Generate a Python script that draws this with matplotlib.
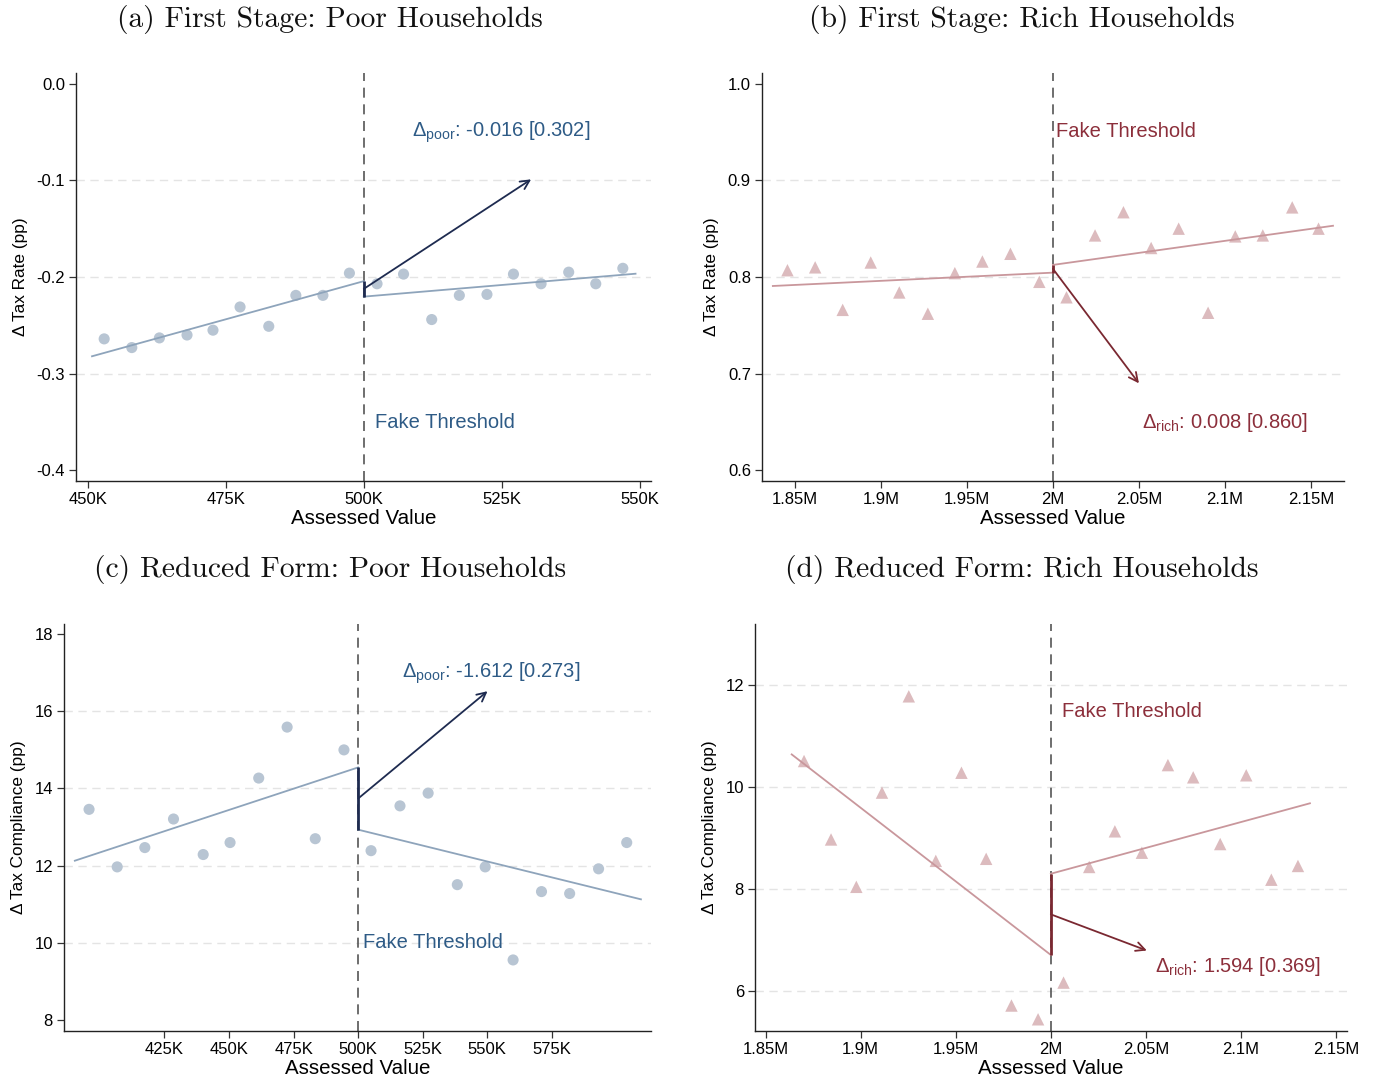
import matplotlib
matplotlib.use("Agg")
import matplotlib.pyplot as plt

plt.rcParams["font.family"] = ["Liberation Sans", "DejaVu Sans"]
plt.rcParams["mathtext.fontset"] = "custom"
plt.rcParams["mathtext.rm"] = "Liberation Sans"
plt.rcParams["mathtext.it"] = "Liberation Sans:italic"
plt.rcParams["mathtext.bf"] = "Liberation Sans:bold"

# ---------------- data (assessed value in thousands) ----------------
# (a) first stage, poor households
poor_fs_x = [453.0, 458.0, 463.0, 468.0, 472.7, 477.6, 482.8, 487.7, 492.6, 497.4,
             502.4, 507.2, 512.3, 517.3, 522.3, 527.1, 532.1, 537.1, 542.0, 546.9]
poor_fs_y = [-0.264, -0.273, -0.263, -0.260, -0.255, -0.231, -0.251, -0.219, -0.219, -0.196,
             -0.207, -0.197, -0.244, -0.219, -0.218, -0.197, -0.207, -0.195, -0.207, -0.191]
poor_fs_fit_x = [450.8, 549.2]          # left start, right end
poor_fs_fit_y = [-0.282, -0.1966]
poor_fs_gap_mid = -0.2123
poor_fs_delta = -0.016
poor_fs_pval = 0.302
poor_fs_arrow_end = (530.3, -0.099)

# (b) first stage, rich households
rich_fs_x = [1845.7, 1861.8, 1877.8, 1894.1, 1910.7, 1927.3, 1943.0, 1959.0, 1975.3, 1992.1,
             2007.9, 2024.5, 2041.0, 2057.1, 2073.1, 2090.2, 2106.0, 2122.0, 2139.1, 2154.4]
rich_fs_y = [0.807, 0.810, 0.766, 0.815, 0.784, 0.762, 0.804, 0.816, 0.824, 0.795,
             0.779, 0.843, 0.867, 0.830, 0.850, 0.763, 0.842, 0.843, 0.872, 0.850]
rich_fs_fit_x = [1837.2, 2162.8]
rich_fs_fit_y = [0.7907, 0.853]
rich_fs_gap_mid = 0.8085
rich_fs_delta = 0.008
rich_fs_pval = 0.860
rich_fs_arrow_end = (2050.0, 0.690)

# (c) reduced form, poor households
poor_rf_x = [395.8, 406.7, 417.4, 428.5, 440.0, 450.4, 461.5, 472.5, 483.4, 494.5,
             505.0, 516.2, 527.1, 538.4, 549.2, 560.0, 571.0, 581.9, 593.1, 604.0]
poor_rf_y = [13.46, 11.97, 12.47, 13.21, 12.29, 12.60, 14.27, 15.59, 12.70, 15.00,
             12.39, 13.55, 13.88, 11.51, 11.97, 9.56, 11.33, 11.28, 11.92, 12.60]
poor_rf_fit_x = [390.3, 609.5]
poor_rf_fit_y = [12.13, 11.13]
poor_rf_gap_mid = 13.74
poor_rf_delta = -1.612
poor_rf_pval = 0.273
poor_rf_arrow_end = (550.1, 16.52)

# (d) reduced form, rich households
rich_rf_x = [1870.2, 1884.4, 1897.7, 1911.2, 1925.3, 1939.5, 1953.0, 1966.0, 1979.3, 1993.3,
             2006.7, 2020.2, 2033.7, 2047.9, 2061.6, 2074.9, 2089.1, 2102.8, 2116.0, 2130.0]
rich_rf_y = [10.51, 8.97, 8.04, 9.89, 11.78, 8.55, 10.28, 8.59, 5.71, 5.44,
             6.16, 8.43, 9.13, 8.71, 10.43, 10.19, 8.88, 10.23, 8.18, 8.45]
rich_rf_fit_x = [1863.7, 2136.3]
rich_rf_fit_y = [10.64, 9.68]
rich_rf_gap_mid = 7.50
rich_rf_delta = 1.594
rich_rf_pval = 0.369
rich_rf_arrow_end = (2050.5, 6.79)

# ticks
poor_fs_xticks = [450, 475, 500, 525, 550]
poor_fs_xlabels = ["450K", "475K", "500K", "525K", "550K"]
poor_fs_yticks = [0.0, -0.1, -0.2, -0.3, -0.4]
poor_fs_ylabels = ["0.0", "-0.1", "-0.2", "-0.3", "-0.4"]
rich_xticks = [1850, 1900, 1950, 2000, 2050, 2100, 2150]
rich_xlabels = ["1.85M", "1.9M", "1.95M", "2M", "2.05M", "2.1M", "2.15M"]
rich_fs_yticks = [1.0, 0.9, 0.8, 0.7, 0.6]
rich_fs_ylabels = ["1.0", "0.9", "0.8", "0.7", "0.6"]
poor_rf_xticks = [425, 450, 475, 500, 525, 550, 575]
poor_rf_xlabels = ["425K", "450K", "475K", "500K", "525K", "550K", "575K"]
poor_rf_yticks = [18, 16, 14, 12, 10, 8]
rich_rf_yticks = [12, 10, 8, 6]

titles = ["(a) First Stage: Poor Households", "(b) First Stage: Rich Households",
          "(c) Reduced Form: Poor Households", "(d) Reduced Form: Rich Households"]

# ---------------- styles ----------------
POOR = dict(dot="#b8c5d3", fit="#8ea4bb", text="#2e5b86", dark="#1e2b50", marker="o")
RICH = dict(dot="#dcbbbe", fit="#c9979c", text="#8c2f3b", dark="#7a2831", marker="^")

W, H = 1380, 1082
fig = plt.figure(figsize=(W / 100, H / 100), dpi=100)


def px_axes(l, t, r, b):
    return fig.add_axes([l / W, 1 - b / H, (r - l) / W, (b - t) / H])


def panel(ax, xs, ys, fit_x, fit_y, mid, delta, pval, arrow_end, group, st,
          threshold, xlim, ylim, xticks, xlabels, yticks, ylabels, grid_ticks,
          ylabel, thr_pos, lab_pos, ms):
    ax.set_xlim(*xlim)
    ax.set_ylim(*ylim)
    for g in grid_ticks:
        ax.axhline(g, color="#e4e4e4", lw=1.0, ls=(0, (6, 4)), zorder=0)
    ax.axvline(threshold, color="#555555", lw=1.2, ls=(0, (6, 4)), zorder=1)
    ax.scatter(xs, ys, s=ms, marker=st["marker"], color=st["dot"], edgecolors="none", zorder=2)
    left_end = mid - delta / 2
    right_start = mid + delta / 2
    ax.plot([fit_x[0], threshold], [fit_y[0], left_end], color=st["fit"], lw=1.3, zorder=3)
    ax.plot([threshold, fit_x[1]], [right_start, fit_y[1]], color=st["fit"], lw=1.3, zorder=3)
    ax.plot([threshold, threshold], [left_end, right_start], color=st["dark"], lw=2.0, zorder=4,
            solid_capstyle="butt")
    ax.annotate("", xy=arrow_end, xytext=(threshold, mid),
                arrowprops=dict(arrowstyle="->", color=st["dark"], lw=1.3,
                                mutation_scale=16, shrinkA=0, shrinkB=0), zorder=5)
    ax.text(lab_pos[0], lab_pos[1],
            r"$\Delta_{\mathrm{%s}}$: %.3f [%.3f]" % (group, delta, pval),
            color=st["text"], fontsize=14.5, ha="left", va="center")
    ax.text(thr_pos[0], thr_pos[1], "Fake Threshold", color=st["text"], fontsize=14.5,
            ha="left", va="center")
    ax.set_xticks(xticks)
    ax.set_xticklabels(xlabels)
    ax.set_yticks(yticks)
    ax.set_yticklabels(ylabels)
    ax.set_xlabel("Assessed Value", fontsize=14.8, labelpad=1)
    ax.set_ylabel(ylabel, fontsize=12.4, labelpad=6)
    for side in ("top", "right"):
        ax.spines[side].set_visible(False)
    for side in ("left", "bottom"):
        ax.spines[side].set_color("#222222")
        ax.spines[side].set_linewidth(1.0)
    ax.tick_params(axis="both", labelsize=12, length=5, width=0.9, color="#333333",
                   pad=3, labelcolor="#000000")
    ax.set_facecolor("white")


ax_a = px_axes(76, 73, 651, 481)
panel(ax_a, poor_fs_x, poor_fs_y, poor_fs_fit_x, poor_fs_fit_y, poor_fs_gap_mid,
      poor_fs_delta, poor_fs_pval, poor_fs_arrow_end, "poor", POOR, 500,
      (447.9, 552.0), (-0.411, 0.011), poor_fs_xticks, poor_fs_xlabels,
      poor_fs_yticks, poor_fs_ylabels, [-0.1, -0.2, -0.3], "Δ Tax Rate (pp)",
      (502.0, -0.350), (508.8, -0.050), 64)

ax_b = px_axes(762, 73, 1344, 481)
panel(ax_b, rich_fs_x, rich_fs_y, rich_fs_fit_x, rich_fs_fit_y, rich_fs_gap_mid,
      rich_fs_delta, rich_fs_pval, rich_fs_arrow_end, "rich", RICH, 2000,
      (1830.9, 2169.2), (0.589, 1.011), rich_xticks, rich_xlabels,
      rich_fs_yticks, rich_fs_ylabels, [0.9, 0.8, 0.7], "Δ Tax Rate (pp)",
      (2002.0, 0.950), (2051.5, 0.650), 80)

ax_c = px_axes(64, 624, 651, 1031)
panel(ax_c, poor_rf_x, poor_rf_y, poor_rf_fit_x, poor_rf_fit_y, poor_rf_gap_mid,
      poor_rf_delta, poor_rf_pval, poor_rf_arrow_end, "poor", POOR, 500,
      (386.1, 613.4), (7.72, 18.26), poor_rf_xticks, poor_rf_xlabels,
      poor_rf_yticks, [str(v) for v in poor_rf_yticks], [16, 14, 12, 10],
      "Δ Tax Compliance (pp)", (502.0, 10.0), (516.8, 16.98), 64)

ax_d = px_axes(755, 624, 1347, 1031)
panel(ax_d, rich_rf_x, rich_rf_y, rich_rf_fit_x, rich_rf_fit_y, rich_rf_gap_mid,
      rich_rf_delta, rich_rf_pval, rich_rf_arrow_end, "rich", RICH, 2000,
      (1844.4, 2155.8), (5.21, 13.2), rich_xticks, rich_xlabels,
      rich_rf_yticks, [str(v) for v in rich_rf_yticks], [12, 10, 8, 6],
      "Δ Tax Compliance (pp)", (2006.0, 11.49), (2055.0, 6.48), 80)

title_pos = [(330, 20), (1022, 20), (330, 570), (1022, 570)]
for t, (tx, ty) in zip(titles, title_pos):
    fig.text(tx / W, 1 - ty / H, t, family=["cmr10", "DejaVu Serif"], fontsize=21.3,
             ha="center", va="center", color="#111111")

fig.savefig("out.png", dpi=100, facecolor="white")
